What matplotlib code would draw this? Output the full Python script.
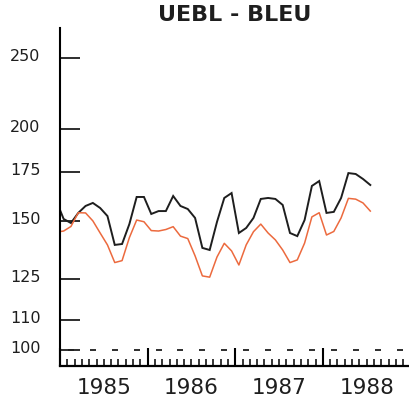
import numpy as np
import pandas as pd
import matplotlib
matplotlib.use("Agg")
import matplotlib.pyplot as plt
import matplotlib.transforms as mtransforms

# monthly index values, Dec 1984 .. Jul 1988
months = pd.date_range("1984-12-01", periods=44, freq="MS")
black_vals = [159.7, 150.9, 149.0, 153.8, 157.2, 158.7, 156.2, 152.3, 139.1, 139.5,
              148.5, 161.7, 161.7, 153.3, 154.7, 154.7, 162.2, 157.2, 155.7, 151.4,
              137.8, 136.9, 149.5, 161.2, 163.7, 144.4, 146.7, 151.4, 160.7, 161.2,
              160.7, 157.7, 144.4, 143.0, 150.4, 167.4, 170.0, 153.8, 154.3, 161.2,
              174.3, 173.8, 171.1, 167.9]
orange_vals = [144.8, 145.3, 147.4, 153.9, 153.8, 150.0, 144.4, 139.1, 131.6, 132.4,
               142.3, 150.4, 149.6, 145.5, 145.3, 146.0, 147.3, 143.0, 141.9, 134.4,
               126.2, 125.7, 133.9, 139.8, 136.5, 130.6, 139.1, 145.0, 148.5, 144.4,
               141.3, 136.9, 131.6, 132.7, 139.9, 151.9, 153.9, 143.5, 145.1, 151.4,
               161.0, 160.6, 158.7, 154.7]
y_ticks = [100, 110, 125, 150, 175, 200, 250]
years = [1985, 1986, 1987, 1988]
title = "UEBL - BLEU"

# x in months since Jan 1985, points drawn mid-month
x = (months.year - 1985) * 12 + (months.month - 1) + 0.5

W, H = 409, 405
fig = plt.figure(figsize=(W / 100, H / 100), dpi=100)
ax = fig.add_axes([60 / W, 39 / H, (W - 60) / W, 338 / H])

ax.plot(x, black_vals, color="#1e1e1e", lw=1.4, solid_joinstyle="miter")
ax.plot(x, orange_vals, color="#ec6a3e", lw=1.1)

ax.set_yscale("log")
ax.set_ylim(95.1, 274.9)
ax.set_xlim(0, 47.8)

for s in ["top", "right"]:
    ax.spines[s].set_visible(False)
ax.spines["left"].set_linewidth(1.5)
ax.spines["bottom"].set_linewidth(1.6)

# y axis: long inward ticks
ax.yaxis.set_major_locator(matplotlib.ticker.FixedLocator(y_ticks))
ax.yaxis.set_minor_locator(matplotlib.ticker.NullLocator())
ax.set_yticklabels([str(v) for v in y_ticks])
ax.tick_params(axis="y", direction="in", length=14.5, width=1.3, pad=14,
               labelsize=11.5, colors="#1e1e1e")
offset = mtransforms.ScaledTranslation(0, 3 / 100, fig.dpi_scale_trans)
for lab in ax.get_yticklabels():
    lab.set_transform(lab.get_transform() + offset)

# x axis: year ticks, monthly ticks, quarter dashes
ax.set_xticks(np.arange(0, 48, 12))
ax.set_xticklabels([])
ax.set_xticks(np.arange(0, 48, 1), minor=True)
ax.tick_params(axis="x", which="major", direction="in", length=13, width=1.5)
ax.tick_params(axis="x", which="minor", direction="in", length=5, width=1.1)

trans = mtransforms.blended_transform_factory(ax.transData, ax.transAxes)
quarter_mid = np.arange(1.5, 48, 3)
ax.plot(quarter_mid, np.full(len(quarter_mid), 16 / 338), ls="", marker="_",
        ms=4, mew=1.3, color="#1e1e1e", transform=trans, clip_on=False)

for i, yr in enumerate(years):
    ax.text(i * 12 + 6, -22.5 / 338, str(yr), transform=trans, ha="center",
            va="center", fontsize=15.5, color="#1e1e1e")

fig.text(235 / W, 1 - 15 / H, title, ha="center", va="center",
         fontsize=16, fontweight="bold", color="#1e1e1e")

fig.savefig("out.png", dpi=100, facecolor="white")
